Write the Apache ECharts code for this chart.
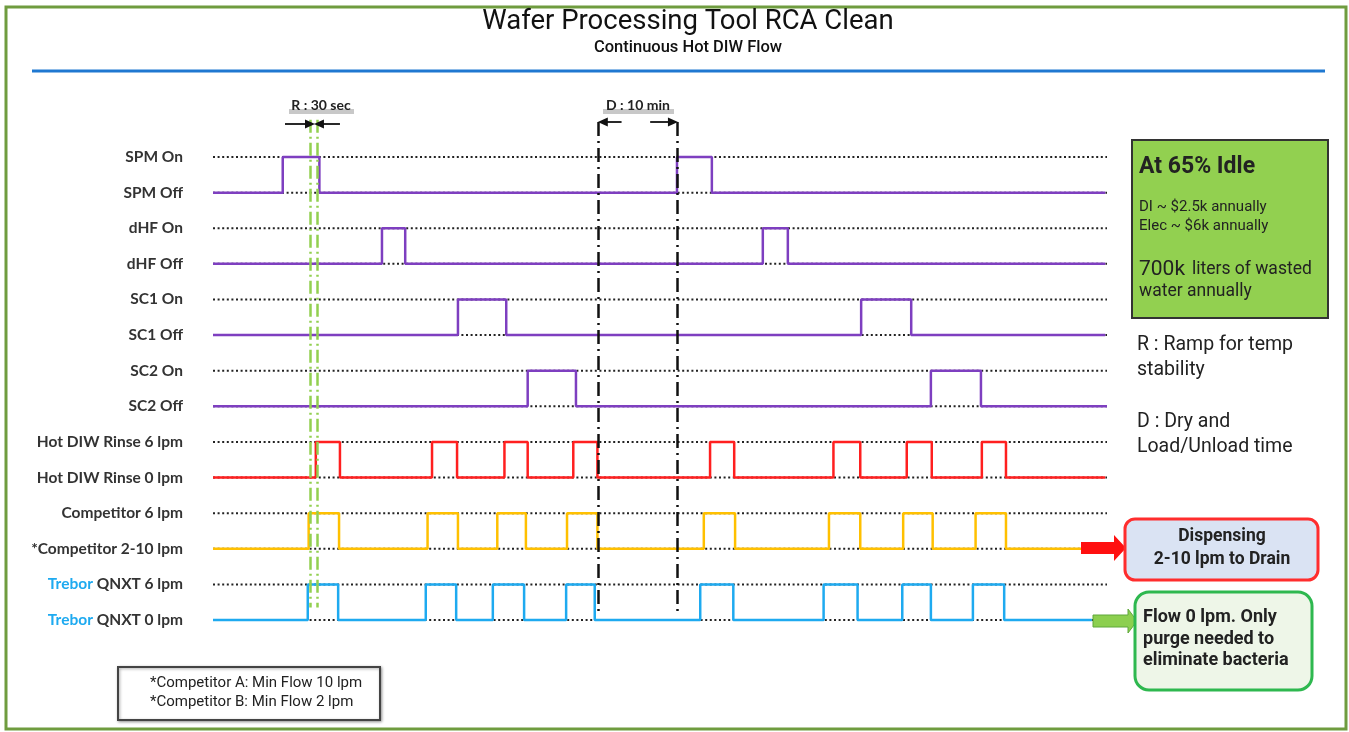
<!DOCTYPE html>
<html><head><meta charset="utf-8">
<script src="https://cdn.jsdelivr.net/npm/echarts@6/dist/echarts.min.js"></script>
<style>html,body{margin:0;padding:0;background:#fff}#c{width:1349px;height:732px}</style>
</head><body><div id="c"></div>
<script>
// ---- data (time in arbitrary schematic units 0..100) ----
const levelLabels = ['SPM On','SPM Off','dHF On','dHF Off','SC1 On','SC1 Off','SC2 On','SC2 Off',
  'Hot DIW Rinse 6 lpm','Hot DIW Rinse 0 lpm','Competitor 6 lpm','*Competitor 2-10 lpm','Trebor QNXT 6 lpm','Trebor QNXT 0 lpm'];
const spmToggles = [7.8, 11.9, 51.9, 55.8];
const dhfToggles = [18.9, 21.5, 61.5, 64.3];
const sc1Toggles = [27.4, 32.8, 72.5, 78.1];
const sc2Toggles = [35.2, 40.6, 80.3, 85.9];
const rinseToggles = [11.5, 14.2, 24.5, 27.3, 32.6, 35.2, 40.3, 43.0, 55.6, 58.3, 69.4, 72.4, 77.6, 80.4, 86.0, 88.7];
const competitorToggles = [10.7, 14.1, 24.0, 27.4, 31.8, 35.0, 39.6, 43.0, 54.9, 58.4, 68.9, 72.4, 77.2, 80.5, 85.3, 88.7];
const treborToggles = [10.6, 14.0, 23.8, 27.2, 31.3, 34.8, 39.5, 42.7, 54.5, 58.2, 68.3, 72.1, 77.1, 80.3, 85.0, 88.5];
const signalEnds = [99.8, 99.8, 99.8, 100, 99.8, 97.1, 98.3];
const rampMarks = [10.85, 11.7];
const dryMarks = [43.1, 51.9];
const rampArrows = [[8.05, 10.85], [14.2, 11.85]];
const dryArrows = [[45.7, 43.6], [48.9, 51.45]];

const signals = [
  {name:'SPM', toggles: spmToggles, hi:0, lo:1, color:'#7e3fc0'},
  {name:'dHF', toggles: dhfToggles, hi:2, lo:3, color:'#7e3fc0'},
  {name:'SC1', toggles: sc1Toggles, hi:4, lo:5, color:'#7e3fc0'},
  {name:'SC2', toggles: sc2Toggles, hi:6, lo:7, color:'#7e3fc0'},
  {name:'Hot DIW Rinse', toggles: rinseToggles, hi:8, lo:9, color:'#ff1f1f'},
  {name:'Competitor', toggles: competitorToggles, hi:10, lo:11, color:'#ffc000'},
  {name:'Trebor QNXT', toggles: treborToggles, hi:12, lo:13, color:'#1eaaf0'}
];

function steps(tg, hi, lo, end){
  const pts=[[0,lo]]; let cur=lo;
  tg.forEach(t=>{pts.push([t,cur]); cur = cur===lo?hi:lo; pts.push([t,cur]);});
  pts.push([end,cur]); return pts;
}

const series = [];
levelLabels.forEach((l,i)=>{
  series.push({type:'line', data:[[0,i],[100,i]], symbol:'none', silent:true, z:1,
    lineStyle:{color:'#222', width:2, type:[2,2.6]}});
});
signals.forEach((s,i)=>{
  series.push({type:'line', name:s.name, data:steps(s.toggles,s.hi,s.lo,signalEnds[i]), symbol:'none', z:3,
    lineStyle:{color:s.color, width:2.5}});
});
const arrowItem = (a,y)=>[{coord:[a[0],y], symbol:'none'},{coord:[a[1],y], symbol:'triangle', symbolSize:[9,10]}];
series.push({type:'line', data:[], z:5, silent:true,
  markLine:{silent:true, animation:false, symbol:['none','none'], label:{show:false},
    lineStyle:{color:'#92d050', width:2.5, type:[13,4,2,4]},
    data: rampMarks.map(x=>[{coord:[x,-1.05]},{coord:[x,12.65]}])}});
series.push({type:'line', data:[], z:5, silent:true,
  markLine:{silent:true, animation:false, symbol:['none','none'], label:{show:false},
    lineStyle:{color:'#111', width:2.5, type:[14,5,2,5]},
    data: dryMarks.map(x=>[{coord:[x,-0.98]},{coord:[x,12.75]}])}});
series.push({type:'line', data:[], z:5, silent:true,
  markLine:{silent:true, animation:false, symbol:['none','none'], label:{show:false},
    lineStyle:{color:'#111', width:1.8, type:'solid'},
    data: rampArrows.map(a=>arrowItem(a,-0.93)).concat(dryArrows.map(a=>arrowItem(a,-0.98)))}});

const F = 'Roboto';
function txt(text,x,y,size,weight,opts){
  return Object.assign({type:'text', z:10, style:Object.assign({text, x, y, fill:'#222', fontSize:size, fontWeight:weight||'normal',
    fontFamily:F, textAlign:'left', textVerticalAlign:'middle', align:'left', verticalAlign:'middle'}, opts||{})});
}
const graphic = [
  {type:'rect', shape:{x:6,y:7,width:1340,height:722}, style:{fill:'none', stroke:'#6f9c3f', lineWidth:3}, z:0},
  {type:'line', shape:{x1:32,y1:71,x2:1325,y2:71}, style:{stroke:'#1f78d1', lineWidth:3}, z:0},
  txt('Wafer Processing Tool RCA Clean',688,22,27.5,'normal',{textAlign:'center',align:'center',fill:'#111'}),
  txt('Continuous Hot DIW Flow',688,48,16.5,'500',{textAlign:'center',align:'center',fill:'#111'}),
  {type:'rect', shape:{x:289,y:109,width:65,height:5}, style:{fill:'#c8c8c8'}, z:9},
  {type:'rect', shape:{x:603,y:109,width:71,height:5}, style:{fill:'#c8c8c8'}, z:9},
  txt('R : 30 sec',321,105,14,'bold',{textAlign:'center',align:'center',fontFamily:'Lato'}),
  txt('D : 10 min',638,105,14,'bold',{textAlign:'center',align:'center',fontFamily:'Lato'}),
  {type:'rect', shape:{x:1132,y:140,width:196,height:178}, style:{fill:'#92d050', stroke:'#333', lineWidth:2}, z:8},
  txt('At 65% Idle',1139,167,23,'bold'),
  txt('DI ~ $2.5k annually',1139,207,15),
  txt('Elec ~ $6k annually',1139,226,15),
  txt('700k',1139,270,21),
  txt('liters of wasted',1192,270,17.5),
  txt('water annually',1139,292,17.5),
  txt('R : Ramp for temp',1137,345,19.5),
  txt('stability',1137,370,19.5),
  txt('D : Dry and',1137,422,19.5),
  txt('Load/Unload time',1137,447,19.5),
  {type:'polygon', shape:{points:[[1081,542],[1114,542],[1114,535],[1126,548],[1114,561],[1114,554],[1081,554]]}, style:{fill:'#ff1010'}, z:8},
  {type:'rect', shape:{x:1125,y:519,width:193,height:61,r:10}, style:{fill:'#dae3f3', stroke:'#ff2d2d', lineWidth:3}, z:8},
  txt('Dispensing',1222,537,17.5,'bold',{textAlign:'center',align:'center'}),
  txt('2-10 lpm to Drain',1222,560,17.5,'bold',{textAlign:'center',align:'center'}),
  {type:'polygon', shape:{points:[[1093,615],[1128,615],[1128,609],[1137,621],[1128,633],[1128,627],[1093,627]]}, style:{fill:'#8ccf4f', stroke:'#5fa83a', lineWidth:1}, z:8},
  {type:'rect', shape:{x:1135,y:592,width:177,height:98,r:14}, style:{fill:'#eef6e8', stroke:'#2eb84f', lineWidth:3}, z:8},
  txt('Flow 0 lpm. Only',1143,617,18,'bold'),
  txt('purge needed to',1143,639,18,'bold'),
  txt('eliminate bacteria',1143,660,18,'bold'),
  {type:'rect', shape:{x:118,y:667,width:262,height:53}, style:{fill:'#fff', stroke:'#444', lineWidth:2, shadowBlur:3, shadowColor:'rgba(0,0,0,0.35)', shadowOffsetX:1, shadowOffsetY:1}, z:8},
  txt('*Competitor A: Min Flow 10 lpm',150,683,15),
  txt('*Competitor B: Min Flow 2 lpm',150,702,15)
];

const chart = echarts.init(document.getElementById('c'), null, {renderer:'canvas'});
chart.setOption({
  animation:false,
  backgroundColor:'#fff',
  grid:{left:213, right:242, top:85.8, bottom:76.4, containLabel:false},
  xAxis:{type:'value', min:0, max:100, show:false},
  yAxis:{type:'value', inverse:true, min:-2, max:14, interval:1,
    axisLine:{show:false}, axisTick:{show:false}, splitLine:{show:false},
    axisLabel:{margin:30, color:'#333', fontFamily:'Lato', fontWeight:'bold', fontSize:15.5,
      formatter:v=>{ if(v<0||v>13) return ''; const s=levelLabels[v]; return s.startsWith('Trebor') ? '{t|Trebor}'+s.slice(6) : s; },
      rich:{t:{color:'#1eaaf0', fontFamily:'Lato', fontWeight:'bold', fontSize:15.5}}}},
  series, graphic
});
</script></body></html>
